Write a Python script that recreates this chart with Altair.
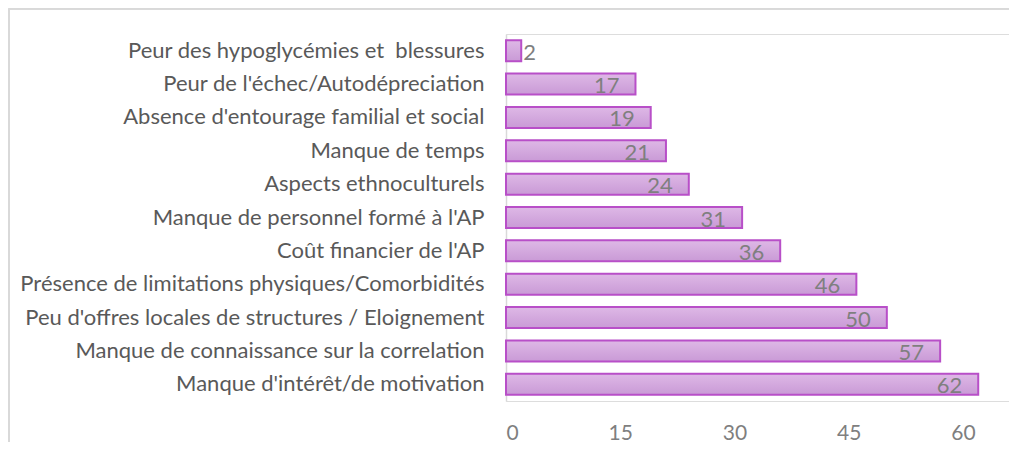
import altair as alt
import pandas as pd

categories = [
    "Peur des hypoglycémies et\u00a0 blessures",
    "Peur de l'échec/Autodépreciation",
    "Absence d'entourage familial et social",
    "Manque de temps",
    "Aspects ethnoculturels",
    "Manque de personnel formé à l'AP",
    "Coût financier de l'AP",
    "Présence de limitations physiques/Comorbidités",
    "Peu d'offres locales de structures / Eloignement",
    "Manque de connaissance sur la correlation",
    "Manque d'intérêt/de motivation",
]
values = [2, 17, 19, 21, 24, 31, 36, 46, 50, 57, 62]
tick_values = [0, 15, 30, 45, 60]

df = pd.DataFrame({"cat": categories, "val": values})

FONT = "Lato"
W, H = 503, 367

y_enc = alt.Y(
    "cat:N",
    sort=categories,
    title=None,
    scale=alt.Scale(paddingInner=0.37, paddingOuter=0.185),
    axis=alt.Axis(
        labelFont=FONT, labelFontSize=22, labelColor="#595959",
        labelPadding=22, ticks=False, domainColor="#d9d9d9", domainWidth=1.5,
        labelLimit=600,
    ),
)
x_enc = alt.X(
    "val:Q",
    title=None,
    scale=alt.Scale(domain=[0, 66.04], nice=False),
    axis=alt.Axis(
        values=tick_values, labelFont=FONT, labelFontSize=21, labelColor="#7f7f7f",
        ticks=False, domain=False, grid=False, labelPadding=21,
    ),
)

grad = alt.LinearGradient(
    gradient="linear", x1=0, y1=0, x2=0, y2=1,
    stops=[alt.GradientStop(offset=0, color="#deb8e6"),
           alt.GradientStop(offset=1, color="#c99ad6")],
)

bars = alt.Chart(df).mark_bar(
    color=grad, stroke="#b84fc8", strokeWidth=2
).encode(x=x_enc, y=y_enc)

inside = alt.Chart(df).transform_filter("datum.val >= 5").mark_text(
    align="right", baseline="middle", dx=-16, dy=2, font=FONT, fontSize=22, color="#7f7f7f"
).encode(x="val:Q", y=alt.Y("cat:N", sort=categories), text="val:Q")

outside = alt.Chart(df).transform_filter("datum.val < 5").mark_text(
    align="left", baseline="middle", dx=2, dy=2, font=FONT, fontSize=22, color="#7f7f7f"
).encode(x="val:Q", y=alt.Y("cat:N", sort=categories), text="val:Q")

frame_top = alt.Chart(df).mark_rule(color="#d9d9d9", strokeWidth=1.5).encode(
    x=alt.value(-497), x2=alt.value(W + 20), y=alt.value(-25.2)
)
frame_left = alt.Chart(df).mark_rule(color="#d9d9d9", strokeWidth=1.5).encode(
    x=alt.value(-497), y=alt.value(-25.2), y2=alt.value(H + 60)
)

chart = alt.layer(frame_top, frame_left, bars, inside, outside).properties(
    width=W, height=H,
    autosize=alt.AutoSizeParams(type="none"),
    padding={"left": 498, "top": 26, "right": 0, "bottom": 41},
).configure_view(stroke=None).configure(background="white")

chart.save("out.html", embed_options={"renderer": "svg", "actions": False})
